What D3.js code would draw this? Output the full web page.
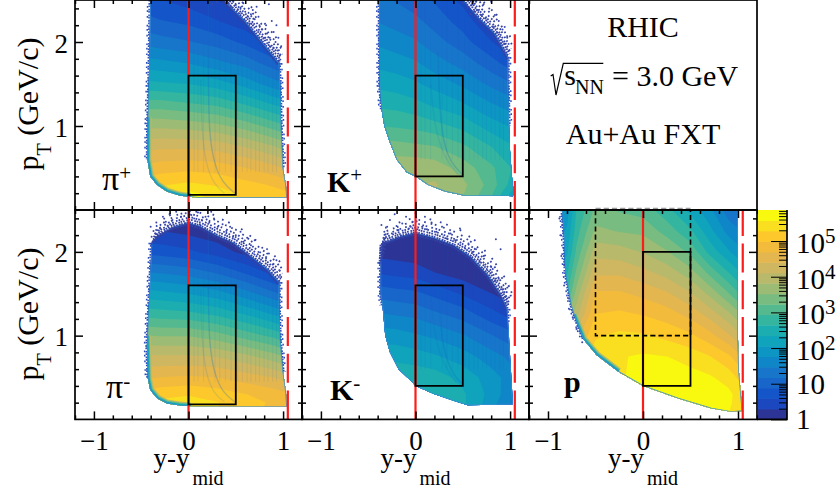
<!DOCTYPE html>
<html>
<head>
<meta charset="utf-8">
<script src="https://cdn.jsdelivr.net/npm/d3@7"></script>
<style>
  html, body { margin: 0; padding: 0; background: #fff; }
  svg { display: block; }
  text { font-family: "Liberation Serif", serif; fill: #000; }
</style>
</head>
<body>
<svg id="chart" width="840" height="493"></svg>
<script>
// log10(counts), one row per pT, one column per rapidity
const ptRows = [0.1, 0.2, 0.3, 0.5, 0.75, 1, 1.25, 1.5, 1.75, 2, 2.25, 2.5];
const pionColumns = [-0.5, -0.3, 0, 0.3, 0.6, 0.9, 1.1];
const kaonColumns = [-0.5, -0.2, 0, 0.2, 0.5, 0.8, 1.1];
const protonColumns = [-0.9, -0.8, -0.7, -0.5, -0.25, 0, 0.25, 0.5, 0.7, 0.9, 1.05];

const piPlusCounts = [
  [5.0, 5.5, 5.8, 5.5, 5.2, 5.0, 4.9],
  [5.3, 5.5, 5.65, 5.45, 5.2, 5.1, 5.0],
  [5.1, 5.25, 5.35, 5.25, 5.1, 4.95, 4.8],
  [4.75, 4.85, 4.9, 4.85, 4.7, 4.5, 4.3],
  [4.3, 4.35, 4.35, 4.3, 4.1, 3.85, 3.6],
  [3.75, 3.75, 3.7, 3.6, 3.4, 3.1, 2.9],
  [3.1, 3.1, 3.0, 2.9, 2.65, 2.35, 2.2],
  [2.45, 2.4, 2.35, 2.2, 1.95, 1.6, 1.4],
  [1.9, 1.85, 1.75, 1.55, 1.35, 1.0, 0.7],
  [1.4, 1.3, 1.2, 1.05, 0.8, 0.5, 0.2],
  [1.0, 0.9, 0.8, 0.6, 0.4, 0.1, 0],
  [0.7, 0.6, 0.45, 0.3, 0.1, 0, 0]
];
const piMinusCounts = [
  [5.0, 5.3, 5.5, 5.3, 5.1, 4.9, 4.8],
  [5.2, 5.35, 5.45, 5.3, 5.1, 4.95, 4.8],
  [5.05, 5.2, 5.25, 5.15, 5.0, 4.85, 4.7],
  [4.65, 4.7, 4.75, 4.7, 4.55, 4.4, 4.2],
  [4.15, 4.15, 4.15, 4.1, 3.9, 3.65, 3.4],
  [3.55, 3.5, 3.5, 3.35, 3.1, 2.85, 2.6],
  [2.85, 2.8, 2.75, 2.6, 2.35, 2.05, 1.85],
  [2.2, 2.15, 2.05, 1.9, 1.6, 1.25, 1.0],
  [1.5, 1.45, 1.35, 1.15, 0.85, 0.5, 0.3],
  [0.8, 0.75, 0.65, 0.45, 0.2, 0, 0],
  [0.3, 0.3, 0.2, 0.1, 0, 0, 0],
  [0, 0, 0, 0, 0, 0, 0]
];
const kPlusCounts = [
  [3.6, 3.7, 3.8, 3.8, 3.5, 2.9, 1.9],
  [3.6, 3.7, 3.8, 3.8, 3.55, 3.0, 2.0],
  [3.7, 3.75, 3.8, 3.85, 3.6, 3.1, 2.3],
  [3.7, 3.75, 3.75, 3.7, 3.4, 3.0, 2.5],
  [3.4, 3.35, 3.3, 3.25, 3.0, 2.65, 2.3],
  [2.95, 2.9, 2.85, 2.75, 2.55, 2.2, 1.95],
  [2.6, 2.55, 2.45, 2.3, 2.1, 1.8, 1.55],
  [2.3, 2.2, 2.1, 1.95, 1.7, 1.4, 1.1],
  [2.0, 1.9, 1.8, 1.6, 1.35, 1.0, 0.6],
  [1.75, 1.6, 1.5, 1.3, 1.0, 0.6, 0.2],
  [1.5, 1.35, 1.25, 1.05, 0.75, 0.3, 0],
  [1.3, 1.15, 1.0, 0.85, 0.5, 0, 0]
];
const kMinusCounts = [
  [2.5, 2.55, 2.6, 2.6, 2.4, 1.85, 1.2],
  [2.5, 2.55, 2.6, 2.6, 2.4, 1.9, 1.25],
  [2.55, 2.6, 2.65, 2.65, 2.4, 1.95, 1.4],
  [2.6, 2.6, 2.55, 2.5, 2.25, 1.9, 1.5],
  [2.3, 2.25, 2.2, 2.1, 1.9, 1.6, 1.3],
  [1.95, 1.9, 1.8, 1.7, 1.5, 1.2, 0.9],
  [1.55, 1.45, 1.4, 1.25, 1.05, 0.7, 0.4],
  [1.1, 1.0, 0.95, 0.8, 0.55, 0.3, 0.1],
  [0.6, 0.5, 0.45, 0.3, 0.15, 0, 0],
  [0.2, 0.15, 0.1, 0.05, 0, 0, 0],
  [0, 0, 0, 0, 0, 0, 0],
  [0, 0, 0, 0, 0, 0, 0]
];
const protonCounts = [
  [4.8, 4.8, 4.9, 5.2, 5.4, 5.6, 5.65, 5.65, 5.65, 5.6, 5.3],
  [4.8, 4.8, 4.9, 5.2, 5.4, 5.6, 5.65, 5.65, 5.65, 5.65, 5.35],
  [4.8, 4.8, 4.9, 5.2, 5.4, 5.6, 5.65, 5.65, 5.65, 5.65, 5.4],
  [4.8, 4.85, 5.0, 5.35, 5.55, 5.65, 5.7, 5.7, 5.62, 5.45, 5.15],
  [4.4, 4.7, 5.1, 5.4, 5.55, 5.62, 5.58, 5.45, 5.3, 5.05, 4.7],
  [3.6, 4.0, 4.6, 5.25, 5.35, 5.32, 5.2, 5.05, 4.8, 4.45, 4.1],
  [3.0, 3.45, 4.0, 5.0, 5.05, 4.98, 4.85, 4.6, 4.3, 3.9, 3.5],
  [2.6, 2.9, 3.65, 4.75, 4.75, 4.62, 4.45, 4.15, 3.75, 3.25, 2.85],
  [2.3, 2.6, 3.3, 4.35, 4.35, 4.2, 4.0, 3.65, 3.15, 2.65, 2.3],
  [2.1, 2.3, 3.0, 4.0, 3.95, 3.8, 3.55, 3.15, 2.55, 2.1, 1.8],
  [1.9, 2.1, 2.8, 3.6, 3.5, 3.45, 3.1, 2.7, 2.15, 1.65, 1.45],
  [1.7, 1.9, 2.65, 3.3, 3.2, 3.1, 2.75, 2.25, 1.85, 1.3, 1.1]
];

// Outer edge of each populated region as [rapidity, pT]
const piPlusOutline = [[-0.405, 2.6], [-0.41, 2], [-0.42, 1.5], [-0.433, 1], [-0.435, 0.6], [-0.405, 0.4], [-0.335, 0.3], [-0.23, 0.22], [-0.09, 0.17], [0.1, 0.145], [1.04, 0.145], [1.03, 0.3], [1.0, 0.5], [0.98, 1], [0.97, 1.5], [0.96, 1.75], [0.78, 2.0], [0.6, 2.25], [0.42, 2.45], [0.3, 2.6]];
const piMinusOutline = [[-0.39, 2.11], [-0.41, 1.56], [-0.42, 1.36], [-0.44, 0.88], [-0.43, 0.49], [-0.405, 0.35], [-0.33, 0.25], [-0.23, 0.19], [-0.09, 0.165], [0.1, 0.15], [1.04, 0.15], [1.03, 0.33], [1.0, 0.57], [0.97, 0.96], [0.96, 1.36], [0.96, 1.64], [0.83, 1.8], [0.65, 1.96], [0.48, 2.11], [0.3, 2.2], [0.12, 2.31], [0, 2.35], [-0.16, 2.3], [-0.33, 2.19]];
const kPlusOutline = [[-0.384, 2.6], [-0.387, 2], [-0.38, 1.5], [-0.36, 1.2], [-0.33, 1], [-0.27, 0.8], [-0.2, 0.6], [-0.095, 0.45], [0, 0.4], [0.13, 0.3], [0.31, 0.22], [0.52, 0.17], [1.03, 0.165], [1.04, 0.2], [1.02, 0.4], [1.0, 0.7], [0.99, 1], [0.98, 1.5], [0.98, 1.82], [0.84, 2.1], [0.66, 2.3], [0.52, 2.48], [0.48, 2.6]];
const kMinusOutline = [[-0.37, 1.88], [-0.37, 1.5], [-0.35, 1.36], [-0.32, 1], [-0.27, 0.8], [-0.18, 0.6], [-0.04, 0.45], [0, 0.4], [0.2, 0.3], [0.41, 0.22], [0.55, 0.17], [1.03, 0.18], [1.01, 0.57], [0.98, 1.16], [0.97, 1.32], [0.91, 1.48], [0.77, 1.72], [0.59, 1.94], [0.41, 2.08], [0.2, 2.17], [0, 2.23], [-0.15, 2.19], [-0.36, 2.1]];
const protonOutline = [[-0.86, 2.6], [-0.83, 2.15], [-0.82, 1.76], [-0.757, 1.36], [-0.7, 1.16], [-0.63, 0.96], [-0.49, 0.77], [-0.26, 0.57], [0, 0.4], [0.37, 0.25], [0.72, 0.13], [0.93, 0.09], [1.045, 0.1], [1.04, 0.17], [1.01, 0.57], [1.0, 0.96], [1.0, 1.36], [1.0, 2.6]];

// Upper edges where the distribution thins out into single entries
const piPlusFringe = [[0.3, 2.6], [0.42, 2.45], [0.6, 2.25], [0.78, 2.0], [0.96, 1.75]];
const piMinusFringe = [[-0.39, 2.11], [-0.33, 2.19], [-0.16, 2.3], [0, 2.35], [0.12, 2.31], [0.3, 2.2], [0.48, 2.11], [0.65, 1.96], [0.83, 1.8], [0.96, 1.64]];
const kPlusFringe = [[0.48, 2.6], [0.66, 2.3], [0.84, 2.1], [0.98, 1.82]];
const kMinusFringe = [[-0.37, 1.88], [-0.36, 2.1], [-0.15, 2.19], [0, 2.23], [0.2, 2.17], [0.41, 2.08], [0.59, 1.94], [0.77, 1.72], [0.91, 1.48], [0.97, 1.32]];

// Side edges with a slight grain
const piPlusSides = [[[-0.405, 2.6], [-0.42, 1.5], [-0.433, 1], [-0.435, 0.6]], [[0.96, 1.75], [0.97, 1.5], [0.98, 1], [1.0, 0.5]]];
const piMinusSides = [[[-0.39, 2.11], [-0.42, 1.36], [-0.44, 0.88], [-0.43, 0.49]], [[0.96, 1.64], [0.96, 1.36], [0.97, 0.96], [1.0, 0.57]]];
const kPlusSides = [[[-0.384, 2.6], [-0.38, 1.5], [-0.36, 1.2]], [[0.98, 1.82], [0.98, 1.5], [0.99, 1]]];
const kMinusSides = [[[-0.37, 1.88], [-0.37, 1.5], [-0.35, 1.36]], [[0.97, 1.32], [0.98, 1.16]]];
const protonSides = [[[-0.86, 2.6], [-0.83, 2.15], [-0.82, 1.76], [-0.757, 1.36], [-0.7, 1.16], [-0.63, 0.96]]];

// Lower left shoulders, where the counts fall off through the colour bands
const piPlusShoulder = [[-0.433, 1.1], [-0.435, 0.6], [-0.405, 0.4], [-0.335, 0.3], [-0.23, 0.22], [-0.09, 0.17], [0.02, 0.155]];
const piMinusShoulder = [[-0.44, 1.0], [-0.43, 0.49], [-0.405, 0.35], [-0.33, 0.25], [-0.23, 0.19], [-0.09, 0.165], [0.02, 0.155]];
const protonShoulder = [[-0.73, 1.25], [-0.7, 1.16], [-0.63, 0.96], [-0.49, 0.77], [-0.26, 0.57]];

// Sparse single entries above the dense region
const piPlusDots = [[0.25, 2.45], [0.3, 2.48], [0.42, 2.47], [0.45, 2.42], [0.5, 2.44], [0.52, 2.38], [0.55, 2.41], [0.6, 2.36], [0.58, 2.46], [0.63, 2.3], [0.66, 2.33], [0.7, 2.27], [0.65, 2.22], [0.72, 2.42], [0.75, 2.2], [0.78, 2.15], [0.82, 2.2], [0.85, 2.45], [0.88, 2.25], [0.8, 2.05], [0.83, 2.1], [0.86, 2.05], [0.9, 2.12], [0.92, 2.0], [0.95, 2.05], [0.9, 1.93], [0.94, 1.9], [0.97, 1.85], [0.98, 1.95], [0.96, 1.78], [0.93, 2.2], [0.68, 2.38], [0.86, 1.95], [0.74, 2.3], [0.54, 2.34], [0.47, 2.49]];
const piMinusDots = [[-0.39, 2.18], [-0.4, 2.3], [-0.37, 2.25], [-0.34, 2.35], [-0.3, 2.28], [-0.27, 2.42], [-0.24, 2.36], [-0.2, 2.45], [-0.17, 2.38], [-0.13, 2.48], [-0.08, 2.42], [-0.03, 2.46], [0.03, 2.44], [0.06, 2.4], [0.1, 2.47], [0.14, 2.38], [0.18, 2.42], [0.22, 2.35], [0.27, 2.4], [0.31, 2.3], [0.36, 2.33], [0.4, 2.25], [0.44, 2.3], [0.5, 2.2], [0.55, 2.24], [0.58, 2.12], [0.62, 2.17], [0.66, 2.08], [0.7, 2.14], [0.74, 2.0], [0.78, 2.05], [0.82, 1.92], [0.85, 1.98], [0.89, 1.85], [0.93, 1.9], [0.96, 1.78], [0.98, 1.7], [0.24, 2.48], [0.12, 2.33], [-0.22, 2.31], [-0.35, 2.22], [0.47, 2.18]];
const kPlusDots = [[0.5, 2.47], [0.55, 2.42], [0.6, 2.45], [0.62, 2.36], [0.66, 2.38], [0.7, 2.32], [0.68, 2.25], [0.74, 2.28], [0.78, 2.4], [0.82, 2.18], [0.78, 2.15], [0.86, 2.12], [0.88, 2.25], [0.9, 2.02], [0.84, 2.32], [0.94, 1.98], [0.97, 2.05], [0.94, 1.88], [0.92, 2.15], [0.72, 2.45], [0.8, 2.48], [0.99, 1.9], [0.64, 2.48], [0.58, 2.33]];
const kMinusDots = [[-0.37, 2.03], [-0.36, 2.32], [-0.3, 2.3], [-0.27, 2.38], [-0.25, 2.22], [-0.22, 2.45], [-0.2, 2.31], [-0.18, 2.26], [-0.14, 2.34], [-0.1, 2.42], [-0.07, 2.28], [-0.03, 2.36], [0, 2.46], [0.04, 2.38], [0.07, 2.3], [0.1, 2.42], [0.12, 2.27], [0.17, 2.35], [0.22, 2.24], [0.28, 2.3], [0.33, 2.16], [0.37, 2.22], [0.42, 2.14], [0.47, 2.28], [0.52, 2.05], [0.56, 2.1], [0.6, 2.0], [0.64, 2.03], [0.68, 1.88], [0.72, 1.95], [0.76, 1.78], [0.8, 1.82], [0.84, 1.65], [0.88, 1.68], [0.92, 1.55], [0.95, 1.46], [0.85, 2.15], [0.9, 2.03], [-0.05, 2.3], [0.02, 2.27], [-0.33, 2.24]];
const protonDots = [[-0.88, 2.4], [-0.87, 2.2], [-0.85, 2.32], [-0.84, 2.05], [-0.86, 1.95], [-0.83, 1.85], [-0.83, 1.6], [-0.79, 1.45], [-0.78, 1.32], [-0.74, 1.22], [-0.7, 1.08], [-0.64, 0.92]];

// Thin acceptance streaks visible through the rapidity-pT bands
const piPlusStreaks = [[[0.21, 2.5], [0.21, 1.4], [0.22, 0.9], [0.27, 0.55], [0.36, 0.32], [0.5, 0.19]], [[0.13, 1.55], [0.14, 0.95], [0.18, 0.55], [0.27, 0.3], [0.38, 0.2]]];
const piMinusStreaks = [[[0.21, 2.3], [0.21, 1.4], [0.22, 0.9], [0.27, 0.55], [0.36, 0.32], [0.5, 0.2]], [[0.13, 1.55], [0.14, 0.95], [0.18, 0.55], [0.27, 0.3], [0.38, 0.21]]];
const kPlusStreaks = [[[0.24, 1.9], [0.25, 1.3], [0.29, 0.8], [0.38, 0.55], [0.5, 0.42]], [[0.16, 1.5], [0.2, 1.0], [0.3, 0.62], [0.45, 0.42]]];
const kMinusStreaks = [[[0.24, 1.6], [0.27, 1.0], [0.33, 0.7], [0.42, 0.5], [0.5, 0.42]], [[0.16, 1.5], [0.2, 1.0], [0.29, 0.66], [0.43, 0.44]]];
const stripeRapidities = [0.06, 0.1, 0.16, 0.28, 0.33, 0.39, 0.45, 0.52, 0.57, 0.62, 0.66, 0.71, 0.75, 0.8, 0.84, 0.89, 0.93];

// [left, right, bottom, top] of the analysis windows
const pionWindow = [0, 0.5, 0.18, 1.6];
const kaonWindow = [0, 0.5, 0.4, 1.6];
const protonWindow = [0, 0.5, 0.4, 2.0];
const protonDashedWindow = [-0.5, 0.5, 1.0, 2.5];

const rapidityLines = [0, 1.05];
const xMajorTicks = [-1, 0, 1];
const xMinorTicks = [-1.2, -0.8, -0.6, -0.4, -0.2, 0.2, 0.4, 0.6, 0.8, 1.2];
const yMajorTicks = [1, 2];
const yMinorTicks = [0.2, 0.4, 0.6, 0.8, 1.2, 1.4, 1.6, 1.8, 2.2, 2.4];

const bandColors = ['#2c3596', '#1b48bf', '#1456c9', '#1866ca', '#1776ca', '#0f86c8', '#0d95c3', '#10a3bc', '#1cadb0', '#33b5a0', '#55b990', '#79bc81', '#9cbb74', '#b8b96b', '#cfb661', '#e3b64f', '#f3bb3c', '#fcc82c', '#fade20', '#f8f90e'];
const colorbarMajorTicks = [1, 10, 100, 1000, 10000, 100000];
const colorbarMinorTicks = [2, 3, 4, 5, 6, 7, 8, 9, 20, 30, 40, 50, 60, 70, 80, 90, 200, 300, 400, 500, 600, 700, 800, 900, 2000, 3000, 4000, 5000, 6000, 7000, 8000, 9000, 20000, 30000, 40000, 50000, 60000, 70000, 80000, 90000, 200000, 300000, 400000, 500000, 600000, 700000];
const colorbarLabels = [['1', ''], ['10', ''], ['10', '2'], ['10', '3'], ['10', '4'], ['10', '5']];
const maxLogCount = 5.87;

const columnEdges = [75, 302, 529, 757];
const rowEdges = [0, 210, 419.4];
const colorbarRight = 787;

// Rows of grain laid over the upper edge, in pixels away from it
const fringeRows = [
  { dx: -1, dy: 2, dash: '2 0.5 1.6 0.9' },
  { dx: 0.5, dy: -0.5, dash: '2 0.6 1.6 1.2' },
  { dx: 1.5, dy: -3, dash: '1.7 0.9 1.7 1.7 1.7 0.6' },
  { dx: 2, dy: -5.5, dash: '1.7 1.5 1.7 2.6 1.7 1' },
  { dx: 3, dy: -8.5, dash: '1.7 2.6 1.7 1.6 1.7 4.2' },
  { dx: 4, dy: -12, dash: '1.7 5 1.7 2.6 1.7 7' },
  { dx: 4.5, dy: -16, dash: '1.7 9 1.7 5 1.7 13' }
];
const sideRows = [
  { dx: -0.8, dash: '1.7 0.7 1.7 1.6' },
  { dx: -2.4, dash: '1.7 4 1.7 7 1.7 2.6' }
];

const panels = [
  { key: 'pip', col: 0, row: 0, columns: pionColumns, counts: piPlusCounts, outline: piPlusOutline, fringe: piPlusFringe, sides: piPlusSides, shoulder: piPlusShoulder, dots: piPlusDots, streaks: piPlusStreaks, box: pionWindow },
  { key: 'kp', col: 1, row: 0, columns: kaonColumns, counts: kPlusCounts, outline: kPlusOutline, fringe: kPlusFringe, sides: kPlusSides, shoulder: [], dots: kPlusDots, streaks: kPlusStreaks, box: kaonWindow },
  { key: 'pim', col: 0, row: 1, columns: pionColumns, counts: piMinusCounts, outline: piMinusOutline, fringe: piMinusFringe, sides: piMinusSides, shoulder: piMinusShoulder, dots: piMinusDots, streaks: piMinusStreaks, box: pionWindow },
  { key: 'km', col: 1, row: 1, columns: kaonColumns, counts: kMinusCounts, outline: kMinusOutline, fringe: kMinusFringe, sides: kMinusSides, shoulder: [], dots: kMinusDots, streaks: kMinusStreaks, box: kaonWindow },
  { key: 'pr', col: 2, row: 1, columns: protonColumns, counts: protonCounts, outline: protonOutline, fringe: [], sides: protonSides, shoulder: protonShoulder, dots: protonDots, streaks: [], box: protonWindow, dashed: protonDashedWindow }
];

const svg = d3.select('#chart');
const defs = svg.append('defs');
const thresholds = bandColors.map((color, i) => (i === 0 ? -1 : (i * maxLogCount) / bandColors.length));

function drawAxes(group, x, y, left, right, bottom, top) {
  const sides = [
    [d3.axisBottom(x), `translate(0,${top})`, xMajorTicks, xMinorTicks],
    [d3.axisTop(x), `translate(0,${bottom})`, xMajorTicks, xMinorTicks],
    [d3.axisRight(y), `translate(${left},0)`, yMajorTicks, yMinorTicks],
    [d3.axisLeft(y), `translate(${right},0)`, yMajorTicks, yMinorTicks]
  ];
  sides.forEach(([axis, transform, major, minor]) => {
    [[major, 8], [minor, 4]].forEach(([values, size]) => {
      const g = group.append('g').attr('transform', transform)
        .call(axis.tickValues(values).tickSize(size).tickSizeOuter(0).tickFormat(''));
      g.select('.domain').remove();
      g.selectAll('text').remove();
      g.selectAll('line').attr('stroke', '#000').attr('stroke-width', 1.5);
    });
  });
}

function drawPanel(panel) {
  const left = columnEdges[panel.col];
  const right = columnEdges[panel.col + 1];
  const top = rowEdges[panel.row];
  const bottom = rowEdges[panel.row + 1];
  const x = d3.scaleLinear().domain([-1.2, 1.2]).range([left, right]);
  const y = d3.scaleLinear().domain([0, 2.5]).range([bottom, top]);

  const group = svg.append('g').attr('class', `panel panel--${panel.key}`);
  const line = d3.line().x((item) => x(item[0])).y((item) => y(item[1]));

  defs.append('clipPath').attr('id', `plot-${panel.key}`)
    .append('rect').attr('x', left).attr('y', top).attr('width', right - left).attr('height', bottom - top);
  defs.append('clipPath').attr('id', `shape-${panel.key}`)
    .append('path').attr('d', `${line(panel.outline)}Z`);

  const plot = group.append('g').attr('clip-path', `url(#plot-${panel.key})`);
  const shape = plot.append('g').attr('clip-path', `url(#shape-${panel.key})`);

  // Filled count bands. Grid cells are centred on index + 0.5.
  const columnAt = d3.scaleLinear().domain(panel.columns.map((item, i) => i + 0.5)).range(panel.columns);
  const rowAt = d3.scaleLinear().domain(ptRows.map((item, i) => i + 0.5)).range(ptRows);
  const contours = d3.contours()
    .size([panel.columns.length, ptRows.length])
    .thresholds(thresholds)(panel.counts.flat());
  const gridPath = d3.geoPath(d3.geoTransform({
    point(px, py) {
      this.stream.point(x(columnAt(px)), y(rowAt(py)));
    }
  }));
  shape.selectAll('path.band').data(contours).join('path')
    .attr('class', 'band')
    .attr('d', gridPath)
    .attr('fill', (item, i) => bandColors[i]);

  // Faint stripes and streaks
  shape.selectAll('line.stripe').data(stripeRapidities).join('line')
    .attr('class', 'stripe')
    .attr('x1', (item) => x(item)).attr('x2', (item) => x(item))
    .attr('y1', y(2.5)).attr('y2', y(panel.box[2] < 0.3 ? 0.45 : 0.6))
    .attr('stroke', '#1456c9').attr('stroke-width', 1).attr('stroke-opacity', panel.key === 'pr' ? 0 : 0.09);
  const streak = d3.line().x((item) => x(item[0])).y((item) => y(item[1])).curve(d3.curveBasis);
  shape.selectAll('path.streak').data(panel.streaks).join('path')
    .attr('class', 'streak').attr('d', streak).attr('fill', 'none')
    .attr('stroke', '#0f66c0').attr('stroke-width', 1.4).attr('stroke-opacity', (item, i) => (i === 0 ? 0.25 : 0.12));

  // Colour fall-off along the edges
  [[8, '#b8b96b'], [5.5, '#55b990'], [3.4, '#10a3bc']].forEach(([width, color]) => {
    if (panel.shoulder.length) {
      shape.append('path').attr('d', line(panel.shoulder)).attr('fill', 'none')
        .attr('stroke', color).attr('stroke-width', width);
    }
  });
  shape.append('path').attr('d', `${line(panel.outline)}Z`).attr('fill', 'none')
    .attr('stroke', '#3b8fd2').attr('stroke-width', 1.4);

  // Grain along the edges that thin out into single entries
  if (panel.fringe.length) {
    plot.selectAll('path.fringe').data(fringeRows).join('path')
      .attr('class', 'fringe')
      .attr('d', line(panel.fringe))
      .attr('transform', (item) => `translate(${item.dx},${item.dy})`)
      .attr('fill', 'none').attr('stroke', '#3342a6').attr('stroke-width', 1.8)
      .attr('stroke-dasharray', (item) => item.dash);
  }
  panel.sides.forEach((side) => {
    const direction = side[0][0] > 0 ? -1 : 1;
    plot.selectAll(null).data(sideRows).join('path')
      .attr('d', line(side))
      .attr('transform', (item) => `translate(${direction * item.dx},0)`)
      .attr('fill', 'none').attr('stroke', '#2a4db8').attr('stroke-width', 1.5)
      .attr('stroke-dasharray', (item) => item.dash);
  });

  plot.selectAll('circle').data(panel.dots).join('circle')
    .attr('cx', (item) => x(item[0])).attr('cy', (item) => y(item[1]))
    .attr('r', 1).attr('fill', '#3a48ab');

  // Red reference lines, drawn from the bottom so the dashes start there
  rapidityLines.forEach((value, i) => {
    group.append('line')
      .attr('x1', x(value)).attr('x2', x(value)).attr('y1', y(0)).attr('y2', y(2.5))
      .attr('stroke', '#fb1c1c').attr('stroke-width', 2.2)
      .attr('stroke-dasharray', i === 1 ? '29 7.7' : null);
  });

  const [x0, x1, y0, y1] = panel.box;
  group.append('path')
    .attr('d', `${line([[x0, y0], [x1, y0], [x1, y1], [x0, y1]])}Z`)
    .attr('fill', 'none').attr('stroke', '#000').attr('stroke-width', 1.8);

  if (panel.dashed) {
    const [a0, a1, b0, b1] = panel.dashed;
    group.append('path')
      .attr('d', line([[a0, b1], [a0, b0], [a1, b0], [a1, b1]]))
      .attr('fill', 'none').attr('stroke', '#000').attr('stroke-width', 1.6).attr('stroke-dasharray', '5.2 3');
    group.append('path')
      .attr('d', line([[a0, b1 + 0.018], [a1, b1 + 0.018]]))
      .attr('fill', 'none').attr('stroke', '#999').attr('stroke-width', 1.4).attr('stroke-dasharray', '5.2 3');
  }

  drawAxes(group, x, y, left, right, bottom, top);
  group.append('rect')
    .attr('x', left).attr('y', top).attr('width', right - left).attr('height', bottom - top)
    .attr('fill', 'none').attr('stroke', '#000').attr('stroke-width', 1.7);

  if (panel.col === 0) {
    const labels = group.append('g').attr('transform', `translate(${left},0)`)
      .call(d3.axisLeft(y).tickValues(yMajorTicks).tickSize(0).tickPadding(7).tickFormat(d3.format('d')));
    labels.select('.domain').remove();
    labels.selectAll('text').attr('font-size', 27).attr('font-family', '"Liberation Serif", serif').attr('dy', 10);
  }
  if (panel.row === 1) {
    const labels = group.append('g').attr('transform', `translate(0,${bottom})`)
      .call(d3.axisBottom(x).tickValues(xMajorTicks).tickSize(0).tickPadding(11).tickFormat(d3.format('d')));
    labels.select('.domain').remove();
    labels.selectAll('text').attr('font-size', 27).attr('font-family', '"Liberation Serif", serif');

    const title = group.append('text').attr('x', x(0) - 35).attr('y', 467).attr('font-size', 27);
    title.append('tspan').text('y-y');
    title.append('tspan').attr('dy', 18).attr('dx', 3).attr('font-size', 20).text('mid');
  }
}

panels.forEach(drawPanel);

// Y axis titles
[104, 314].forEach((center) => {
  const title = svg.append('text')
    .attr('transform', `translate(38,${center}) rotate(-90)`)
    .attr('text-anchor', 'middle').attr('font-size', 30);
  title.append('tspan').text('p');
  title.append('tspan').attr('dy', 13).attr('font-size', 20).text('T');
  title.append('tspan').attr('dy', -13).text(' (GeV/c)');
});

// Particle labels
const addLabel = (xPos, yPos, base, mark, weight, size) => {
  const label = svg.append('text').attr('x', xPos).attr('y', yPos)
    .attr('font-size', size).attr('font-weight', weight).text(base);
  if (mark) {
    label.append('tspan').attr('dy', -10).attr('font-size', 21).attr('font-weight', 'normal').text(mark);
  }
};
addLabel(102, 190, 'π', '+', 'normal', 34);
addLabel(327, 192, 'K', '+', 'bold', 30);
addLabel(106, 398, 'π', '-', 'normal', 34);
addLabel(330, 400, 'K', '-', 'bold', 30);
addLabel(564, 392, 'p', '', 'bold', 30);

// Text panel
svg.append('rect')
  .attr('x', columnEdges[2]).attr('y', rowEdges[0])
  .attr('width', columnEdges[3] - columnEdges[2]).attr('height', rowEdges[1] - rowEdges[0])
  .attr('fill', 'none').attr('stroke', '#000').attr('stroke-width', 1.7);
svg.append('text').attr('x', 643).attr('y', 37).attr('text-anchor', 'middle').attr('font-size', 30).text('RHIC');
svg.append('path').attr('d', 'M550.7 76L553 74.5L556 95L563.3 63.3H603.3')
  .attr('fill', 'none').attr('stroke', '#000').attr('stroke-width', 1.2);
svg.append('text').attr('x', 564.3).attr('y', 85).attr('font-size', 30).text('s');
svg.append('text').attr('x', 575).attr('y', 94).attr('font-size', 20).text('NN');
svg.append('text').attr('x', 612).attr('y', 86).attr('font-size', 30).text('= 3.0 GeV');
svg.append('text').attr('x', 643).attr('y', 144).attr('text-anchor', 'middle').attr('font-size', 30).text('Au+Au FXT');

// Colour bar
const bandScale = d3.scaleLinear().domain([0, maxLogCount]).range([rowEdges[2], rowEdges[1]]);
const countScale = d3.scaleLog().domain([1, Math.pow(10, maxLogCount)]).range([rowEdges[2], rowEdges[1]]);
const colorbar = svg.append('g').attr('class', 'colorbar');
colorbar.selectAll('rect').data(bandColors).join('rect')
  .attr('x', columnEdges[3] + 1).attr('width', colorbarRight - columnEdges[3] - 1)
  .attr('y', (item, i) => bandScale(((i + 1) * maxLogCount) / bandColors.length))
  .attr('height', (item, i) => bandScale((i * maxLogCount) / bandColors.length) - bandScale(((i + 1) * maxLogCount) / bandColors.length) + 0.5)
  .attr('fill', (item) => item);
[[colorbarMajorTicks, 16], [colorbarMinorTicks, 8]].forEach(([values, size]) => {
  const g = colorbar.append('g').attr('transform', `translate(${colorbarRight},0)`)
    .call(d3.axisLeft(countScale).tickValues(values).tickSize(size).tickSizeOuter(0).tickFormat(''));
  g.select('.domain').remove();
  g.selectAll('text').remove();
  g.selectAll('line').attr('stroke', '#000').attr('stroke-width', 1);
});
colorbar.append('path')
  .attr('d', `M${columnEdges[3]} ${rowEdges[2]}H${colorbarRight}V${rowEdges[1]}`)
  .attr('fill', 'none').attr('stroke', '#000').attr('stroke-width', 1.7);
colorbar.append('g').selectAll('text').data(colorbarLabels).join('text')
  .attr('x', 796)
  .attr('y', (item, i) => countScale(colorbarMajorTicks[i]) + (item[1] ? 12 : 10))
  .attr('font-size', 29)
  .each(function (item) {
    const label = d3.select(this);
    label.append('tspan').text(item[0]);
    if (item[1]) {
      label.append('tspan').attr('dy', -10).attr('font-size', 21).text(item[1]);
    }
  });
</script>
</body>
</html>
